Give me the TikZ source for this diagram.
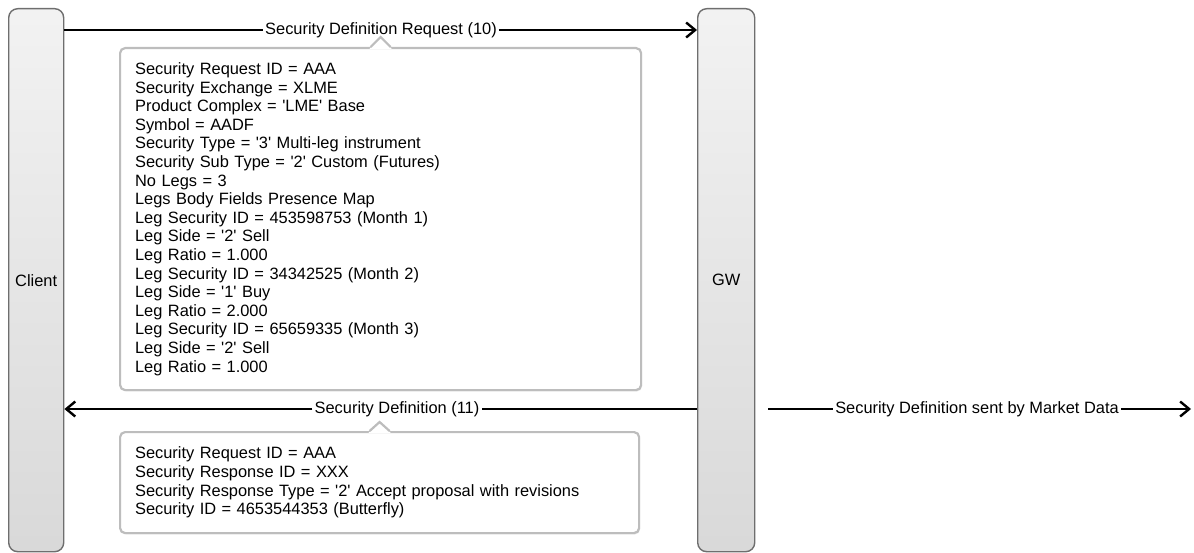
\documentclass[tikz,border=0pt]{standalone}
\usepackage{fontspec}
\newfontfamily\arial{Liberation Sans}
\usetikzlibrary{arrows.meta,shadows}
\definecolor{lifeborder}{HTML}{6E6E6E}
\definecolor{boxborder}{HTML}{BDBDBD}
\tikzset{
  lifeline/.style={draw=lifeborder, line width=1.4pt, rounded corners=9pt,
    top color=black!5, bottom color=black!15, middle color=black!10,
    minimum width=55pt, minimum height=543pt, anchor=north west,
    font=\arial\fontsize{16.4}{18.6}\selectfont, inner sep=0pt},
  infobox/.style={draw=boxborder, line width=2.2pt, rounded corners=5pt, fill=white,
    anchor=north west, align=left, inner xsep=15pt, inner ysep=0pt,
    font=\arial\fontsize{16.4}{18.6}\selectfont,
    drop shadow={opacity=0.12, shadow xshift=1pt, shadow yshift=-1.5pt}},
  notchline/.style={draw=boxborder, line width=2.2pt, line join=miter},
  lbl/.style={fill=white, inner xsep=2pt, inner ysep=1pt,
    font=\arial\fontsize{16.4}{18.6}\selectfont},
  msgline/.style={draw=black, line width=2.4pt},
  msgarrow/.style={draw=black, line width=2.4pt,
    -{Straight Barb[length=9pt,width=15pt,line width=2.4pt]}}
}
\begin{document}
\begin{tikzpicture}[x=1pt,y=-1pt]
\useasboundingbox (0,0) rectangle (1194,553);

% lifelines
\node[lifeline] (client) at (8,8) {Client};
\node[lifeline, minimum width=57pt] (gw) at (697,8) {GW};

% message labels
\node[lbl] (m1) at (381,30) {Security Definition Request (10)};
\node[lbl] (m2) at (397,409) {Security Definition (11)};
\node[lbl] (m3) at (977,409) {Security Definition sent by Market Data};
\coordinate (mdA) at (768,409);
\coordinate (mdB) at (1191,409);

% message connectors
\draw[msgline] (client.east |- m1) -- (m1.west);
\draw[msgarrow] (m1.east) -- (gw.west |- m1);
\draw[msgline] (gw.west |- m2) -- (m2.east);
\draw[msgarrow] (m2.west) -- (client.east |- m2);
\draw[msgline] (mdA) -- (m3.west);
\draw[msgarrow] (m3.east) -- (mdB);

% info box 1
\node[infobox, minimum width=521pt, minimum height=342pt, text width=491pt] (b1) at (119,47) {%
Security Request ID = AAA\\
Security Exchange = XLME\\
Product Complex = 'LME' Base\\
Symbol = AADF\\
Security Type = '3' Multi-leg instrument\\
Security Sub Type = '2' Custom (Futures)\\
No Legs = 3\\
Legs Body Fields Presence Map\\
Leg Security ID = 453598753 (Month 1)\\
Leg Side = '2' Sell\\
Leg Ratio = 1.000\\
Leg Security ID = 34342525 (Month 2)\\
Leg Side = '1' Buy\\
Leg Ratio = 2.000\\
Leg Security ID = 65659335 (Month 3)\\
Leg Side = '2' Sell\\
Leg Ratio = 1.000};
\fill[white] ([xshift=-11pt,yshift=-1.8pt]b1.north) -- ([yshift=9pt]b1.north) -- ([xshift=11pt,yshift=-1.8pt]b1.north) -- cycle;
\draw[notchline] ([xshift=-10pt]b1.north) -- ([yshift=10pt]b1.north) -- ([xshift=10pt]b1.north);

% info box 2
\node[infobox, minimum width=519pt, minimum height=101pt, text width=489pt] (b2) at (119,431) {%
Security Request ID = AAA\\
Security Response ID = XXX\\
Security Response Type = '2' Accept proposal with revisions\\
Security ID = 4653544353 (Butterfly)};
\fill[white] ([xshift=-11pt,yshift=-1.8pt]b2.north) -- ([yshift=8pt]b2.north) -- ([xshift=11pt,yshift=-1.8pt]b2.north) -- cycle;
\draw[notchline] ([xshift=-10pt]b2.north) -- ([yshift=9pt]b2.north) -- ([xshift=10pt]b2.north);
\end{tikzpicture}
\end{document}
